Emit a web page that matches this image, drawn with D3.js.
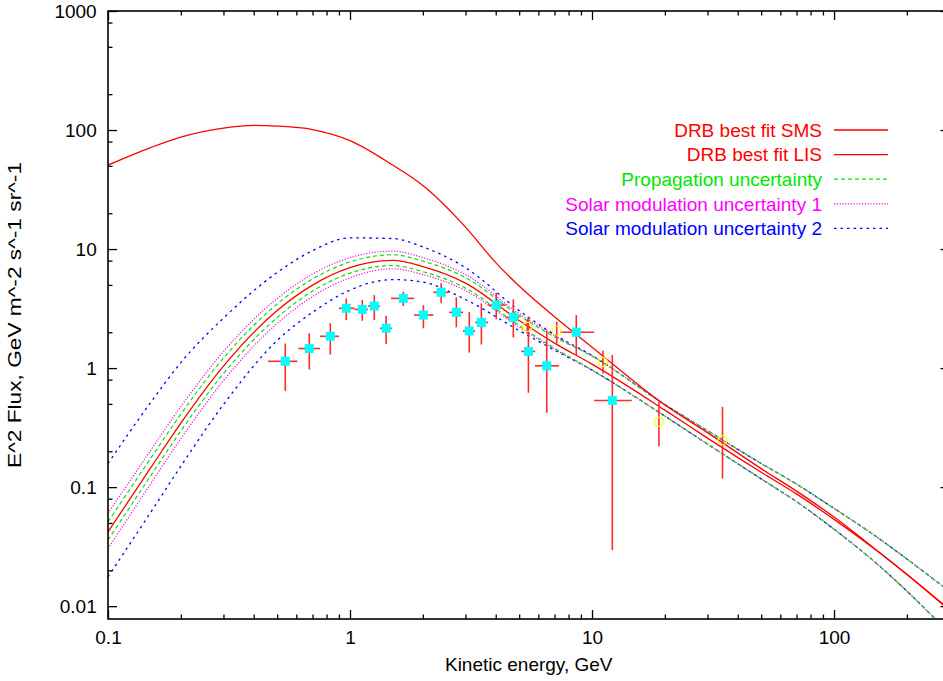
<!DOCTYPE html>
<html>
<head>
<meta charset="utf-8">
<script src="https://cdn.jsdelivr.net/npm/d3@7"></script>
<style>
  body { margin: 0; background: #fff; }
  svg { display: block; }
  text { font-family: "Liberation Sans", Arial, sans-serif; }
</style>
</head>
<body>
<svg id="chart" width="943" height="681"></svg>
<script>
// Model curves: E^2 flux vs kinetic energy (GeV)
const energy = [0.1, 0.15, 0.2, 0.3, 0.5, 0.7, 1, 1.5, 2, 3, 5, 7, 10, 20, 30, 50, 70, 100, 150, 200, 300];
const smsFlux     = [0.0421, 0.145, 0.345, 1.039, 3.048, 4.983, 6.977, 8.021, 7.127, 5.180, 2.507, 1.622, 1.080, 0.4438, 0.258, 0.1334, 0.0877, 0.0536, 0.0293, 0.01845, 0.00922];
const propUpper   = [0.0511, 0.1743, 0.4106, 1.2125, 3.456, 5.596, 7.793, 8.959, 7.925, 5.760, 2.763, 1.822, 1.26, 0.494, 0.298, 0.158, 0.106, 0.0663, 0.0382, 0.0249, 0.0133];
const propLower   = [0.0359, 0.1243, 0.2967, 0.8987, 2.661, 4.435, 6.272, 7.275, 6.464, 4.698, 2.274, 1.471, 0.962, 0.395, 0.23, 0.1172, 0.0755, 0.0443, 0.0228, 0.01337, 0.0059];
const solar1Upper = [0.0601, 0.2034, 0.4747, 1.376, 3.844, 6.164, 8.463, 9.601, 8.481, 6.107, 2.870, 1.875, 1.27, 0.494, 0.298, 0.158, 0.106, 0.0663, 0.0382, 0.0249, 0.0133];
const solar1Lower = [0.0305, 0.1064, 0.2556, 0.7844, 2.371, 3.986, 5.749, 6.834, 6.108, 4.481, 2.211, 1.444, 0.962, 0.395, 0.23, 0.1172, 0.0755, 0.0443, 0.0228, 0.01337, 0.0059];
const solar2Upper = [0.158, 0.514, 1.112, 2.631, 6.358, 9.697, 12.42, 12.26, 10.43, 6.98, 3.04, 1.91, 1.276, 0.494, 0.298, 0.158, 0.106, 0.0663, 0.0382, 0.0249, 0.0133];
const solar2Lower = [0.01764, 0.0612, 0.150, 0.494, 1.707, 2.940, 4.521, 5.543, 5.281, 3.771, 2.066, 1.416, 0.962, 0.395, 0.23, 0.1172, 0.0755, 0.0443, 0.0228, 0.01337, 0.0059];

// Interstellar spectrum, sampled on its own grid
const lisEnergy = [0.1, 0.15, 0.2, 0.3, 0.4, 0.5, 0.7, 1, 1.5, 2, 3, 4, 5, 7, 10, 20, 30, 50, 70, 100, 150, 200, 300];
const lisFlux   = [50.8, 71.3, 87.3, 103.9, 109.4, 108, 101, 81.5, 50.8, 34.2, 15.3, 7.7, 4.89, 2.7, 1.50, 0.49, 0.287, 0.143, 0.0925, 0.056, 0.0295, 0.0185, 0.00935];

// Measurements with energy bins (square markers)
const squareE   = [0.540, 0.679, 0.829, 0.965, 1.124, 1.26, 1.41, 1.66, 2.01, 2.38, 2.75, 3.11, 3.49, 4.02, 4.73, 5.46, 6.50, 8.61, 12.13];
const squareElo = [0.459, 0.612, 0.752, 0.901, 1.046, 1.187, 1.33, 1.477, 1.84, 2.21, 2.57, 2.93, 3.29, 3.72, 4.40, 5.10, 5.81, 7.38, 10.2];
const squareEhi = [0.606, 0.752, 0.901, 1.046, 1.187, 1.33, 1.49, 1.84, 2.21, 2.57, 2.93, 3.29, 3.72, 4.40, 5.01, 5.83, 7.31, 10.2, 14.6];
const squareF   = [1.14, 1.46, 1.85, 3.18, 3.11, 3.32, 2.16, 3.85, 2.79, 4.33, 2.94, 2.05, 2.42, 3.38, 2.67, 1.38, 1.045, 2.0, 0.535];
const squareFlo = [0.644, 0.975, 1.30, 2.53, 2.50, 2.53, 1.59, 3.32, 2.16, 3.50, 2.20, 1.35, 1.58, 2.57, 1.81, 0.62, 0.421, 1.29, 0.0296];
const squareFhi = [1.61, 1.96, 2.38, 3.85, 3.73, 4.10, 2.75, 4.38, 3.38, 5.15, 3.93, 2.97, 3.50, 4.30, 3.78, 2.70, 2.08, 2.79, 1.29];

// Measurements at higher energy (open circles)
const circleE   = [5.40, 7.15, 11.1, 18.9, 34.6];
const circleF   = [2.22, 2.06, 1.13, 0.354, 0.248];
const circleFlo = [1.95, 1.61, 0.90, 0.221, 0.118];
const circleFhi = [2.55, 2.45, 1.40, 0.52, 0.473];

// Axis ticks
const xMajor = [0.1, 1, 10, 100];
const xTickLabels = ["0.1", "1", "10", "100"];
const xMinor = [0.2, 0.3, 0.4, 0.5, 0.6, 0.7, 0.8, 0.9, 2, 3, 4, 5, 6, 7, 8, 9, 20, 30, 40, 50, 60, 70, 80, 90, 200];
const yMajor = [0.01, 0.1, 1, 10, 100, 1000];
const yTickLabels = ["0.01", "0.1", "1", "10", "100", "1000"];
const yMinor = [0.02, 0.05, 0.08, 0.2, 0.5, 0.8, 2, 5, 8, 20, 50, 80, 200, 500, 800];

const legendLabels = ["DRB best fit SMS", "DRB best fit LIS", "Propagation uncertainty",
                      "Solar modulation uncertainty 1", "Solar modulation uncertainty 2"];

(function draw() {
  const svg = d3.select("#chart");
  const pLeft = 108, pRight = 949.5, pTop = 11, pBottom = 619;
  const FONT = 19;

  const x = d3.scaleLog().domain([0.1, 300]).range([pLeft, pRight]);
  const y = d3.scaleLog().domain([0.0078, 1000]).range([pBottom, pTop]);

  svg.append("defs").append("clipPath").attr("id", "plotClip")
    .append("rect").attr("x", pLeft).attr("y", pTop)
    .attr("width", pRight - pLeft).attr("height", pBottom - pTop);

  const RED = "#ff0000", GREEN = "#00e600", MAGENTA = "#ff00ff", BLUE = "#0000ff";

  const styles = {
    red:     { color: RED,     dash: null,      width: 1.3 },
    green:   { color: GREEN,   dash: "4,3",     width: 1.2 },
    magenta: { color: MAGENTA, dash: "1.2,1.6", width: 1.2 },
    blue:    { color: BLUE,    dash: "2.5,4",   width: 1.3 }
  };

  const line = d3.line()
    .x(d => x(d[0])).y(d => y(d[1]))
    .curve(d3.curveMonotoneX);

  const curves = [
    { xs: energy, vals: solar2Upper, s: styles.blue },
    { xs: energy, vals: solar2Lower, s: styles.blue },
    { xs: energy, vals: solar1Upper, s: styles.magenta },
    { xs: energy, vals: solar1Lower, s: styles.magenta },
    { xs: energy, vals: propUpper,   s: styles.green },
    { xs: energy, vals: propLower,   s: styles.green },
    { xs: energy, vals: smsFlux,     s: styles.red },
    { xs: lisEnergy, vals: lisFlux,  s: styles.red }
  ];

  const plot = svg.append("g").attr("clip-path", "url(#plotClip)");

  plot.selectAll("path.curve").data(curves).join("path")
    .attr("class", "curve")
    .attr("d", c => line(c.xs.map((e, i) => [e, c.vals[i]])))
    .attr("fill", "none")
    .attr("stroke", c => c.s.color)
    .attr("stroke-width", c => c.s.width)
    .attr("stroke-dasharray", c => c.s.dash);

  // Error bars
  const squares = squareE.map((e, i) => ({ e, f: squareF[i], elo: squareElo[i], ehi: squareEhi[i], flo: squareFlo[i], fhi: squareFhi[i] }));
  const circles = circleE.map((e, i) => ({ e, f: circleF[i], flo: circleFlo[i], fhi: circleFhi[i] }));

  const bars = plot.append("g").attr("stroke", "#ff2a2a").attr("stroke-width", 1.6);
  bars.selectAll("line.sx").data(squares).join("line").attr("class", "sx")
    .attr("x1", d => x(d.elo)).attr("x2", d => x(d.ehi))
    .attr("y1", d => y(d.f)).attr("y2", d => y(d.f));
  bars.selectAll("line.sy").data(squares).join("line").attr("class", "sy")
    .attr("x1", d => x(d.e)).attr("x2", d => x(d.e))
    .attr("y1", d => y(d.flo)).attr("y2", d => y(d.fhi));
  bars.selectAll("line.cy").data(circles).join("line").attr("class", "cy")
    .attr("x1", d => x(d.e)).attr("x2", d => x(d.e))
    .attr("y1", d => y(d.flo)).attr("y2", d => y(d.fhi));

  plot.selectAll("rect.pt").data(squares).join("rect")
    .attr("class", "pt")
    .attr("x", d => x(d.e) - 4.5).attr("y", d => y(d.f) - 4.5)
    .attr("width", 9).attr("height", 9)
    .attr("fill", "#00ffff");

  plot.selectAll("circle.pt").data(circles).join("circle")
    .attr("class", "pt")
    .attr("cx", d => x(d.e)).attr("cy", d => y(d.f)).attr("r", 4.5)
    .attr("fill", "none").attr("stroke", "#ffff00").attr("stroke-width", 1.2);

  // Axes: labelled major ticks, mirrored ticks on top and right, minor ticks
  function styleAxis(g) {
    g.select(".domain").remove();
    g.selectAll(".tick line").attr("stroke", "#000").attr("stroke-width", 1.3);
    g.selectAll("text").attr("font-size", FONT).attr("fill", "#000")
      .attr("font-family", "'Liberation Sans', Arial, sans-serif");
  }

  svg.append("g").attr("transform", `translate(0,${pBottom})`)
    .call(d3.axisBottom(x).tickValues(xMajor).tickSize(-9).tickPadding(11.5)
      .tickFormat((d, i) => xTickLabels[i])).call(styleAxis);
  svg.append("g").attr("transform", `translate(0,${pBottom})`)
    .call(d3.axisBottom(x).tickValues(xMinor).tickSize(-4.5).tickFormat("")).call(styleAxis);
  svg.append("g").attr("transform", `translate(0,${pTop})`)
    .call(d3.axisTop(x).tickValues(xMajor).tickSize(-9).tickFormat("")).call(styleAxis);
  svg.append("g").attr("transform", `translate(0,${pTop})`)
    .call(d3.axisTop(x).tickValues(xMinor).tickSize(-4.5).tickFormat("")).call(styleAxis);

  svg.append("g").attr("transform", `translate(${pLeft},0)`)
    .call(d3.axisLeft(y).tickValues(yMajor).tickSize(-9).tickPadding(11.3)
      .tickFormat((d, i) => yTickLabels[i])).call(styleAxis);
  svg.append("g").attr("transform", `translate(${pLeft},0)`)
    .call(d3.axisLeft(y).tickValues(yMinor).tickSize(-4.5).tickFormat("")).call(styleAxis);
  svg.append("g").attr("transform", `translate(${pRight},0)`)
    .call(d3.axisRight(y).tickValues(yMajor).tickSize(-9).tickFormat("")).call(styleAxis);
  svg.append("g").attr("transform", `translate(${pRight},0)`)
    .call(d3.axisRight(y).tickValues(yMinor).tickSize(-4.5).tickFormat("")).call(styleAxis);

  svg.append("rect")
    .attr("x", pLeft).attr("y", pTop).attr("width", pRight - pLeft).attr("height", pBottom - pTop)
    .attr("fill", "none").attr("stroke", "#000").attr("stroke-width", 1.6);

  // Axis titles
  svg.append("text")
    .attr("x", (pLeft + pRight) / 2).attr("y", 671)
    .attr("text-anchor", "middle").attr("font-size", FONT)
    .text("Kinetic energy, GeV");
  svg.append("text")
    .attr("transform", `translate(21,${(pTop + pBottom) / 2}) rotate(-90)`)
    .attr("text-anchor", "middle").attr("font-size", FONT)
    .attr("textLength", 306).attr("lengthAdjust", "spacingAndGlyphs")
    .text("E^2 Flux, GeV m^-2 s^-1 sr^-1");

  // Legend
  const legendRows = [
    { s: styles.red,     text: RED },
    { s: styles.red,     text: RED },
    { s: styles.green,   text: GREEN },
    { s: styles.magenta, text: MAGENTA },
    { s: styles.blue,    text: BLUE }
  ];
  const legend = svg.append("g");
  legendRows.forEach((r, i) => {
    const yy = 130 + i * 24.6;
    legend.append("text")
      .attr("x", 822).attr("y", yy).attr("dy", "0.36em")
      .attr("text-anchor", "end").attr("font-size", FONT)
      .attr("fill", r.text)
      .text(legendLabels[i]);
    legend.append("line")
      .attr("x1", 834).attr("x2", 888).attr("y1", yy).attr("y2", yy)
      .attr("stroke", r.s.color).attr("stroke-width", r.s.width)
      .attr("stroke-dasharray", r.s.dash);
  });
})();
</script>
</body>
</html>
